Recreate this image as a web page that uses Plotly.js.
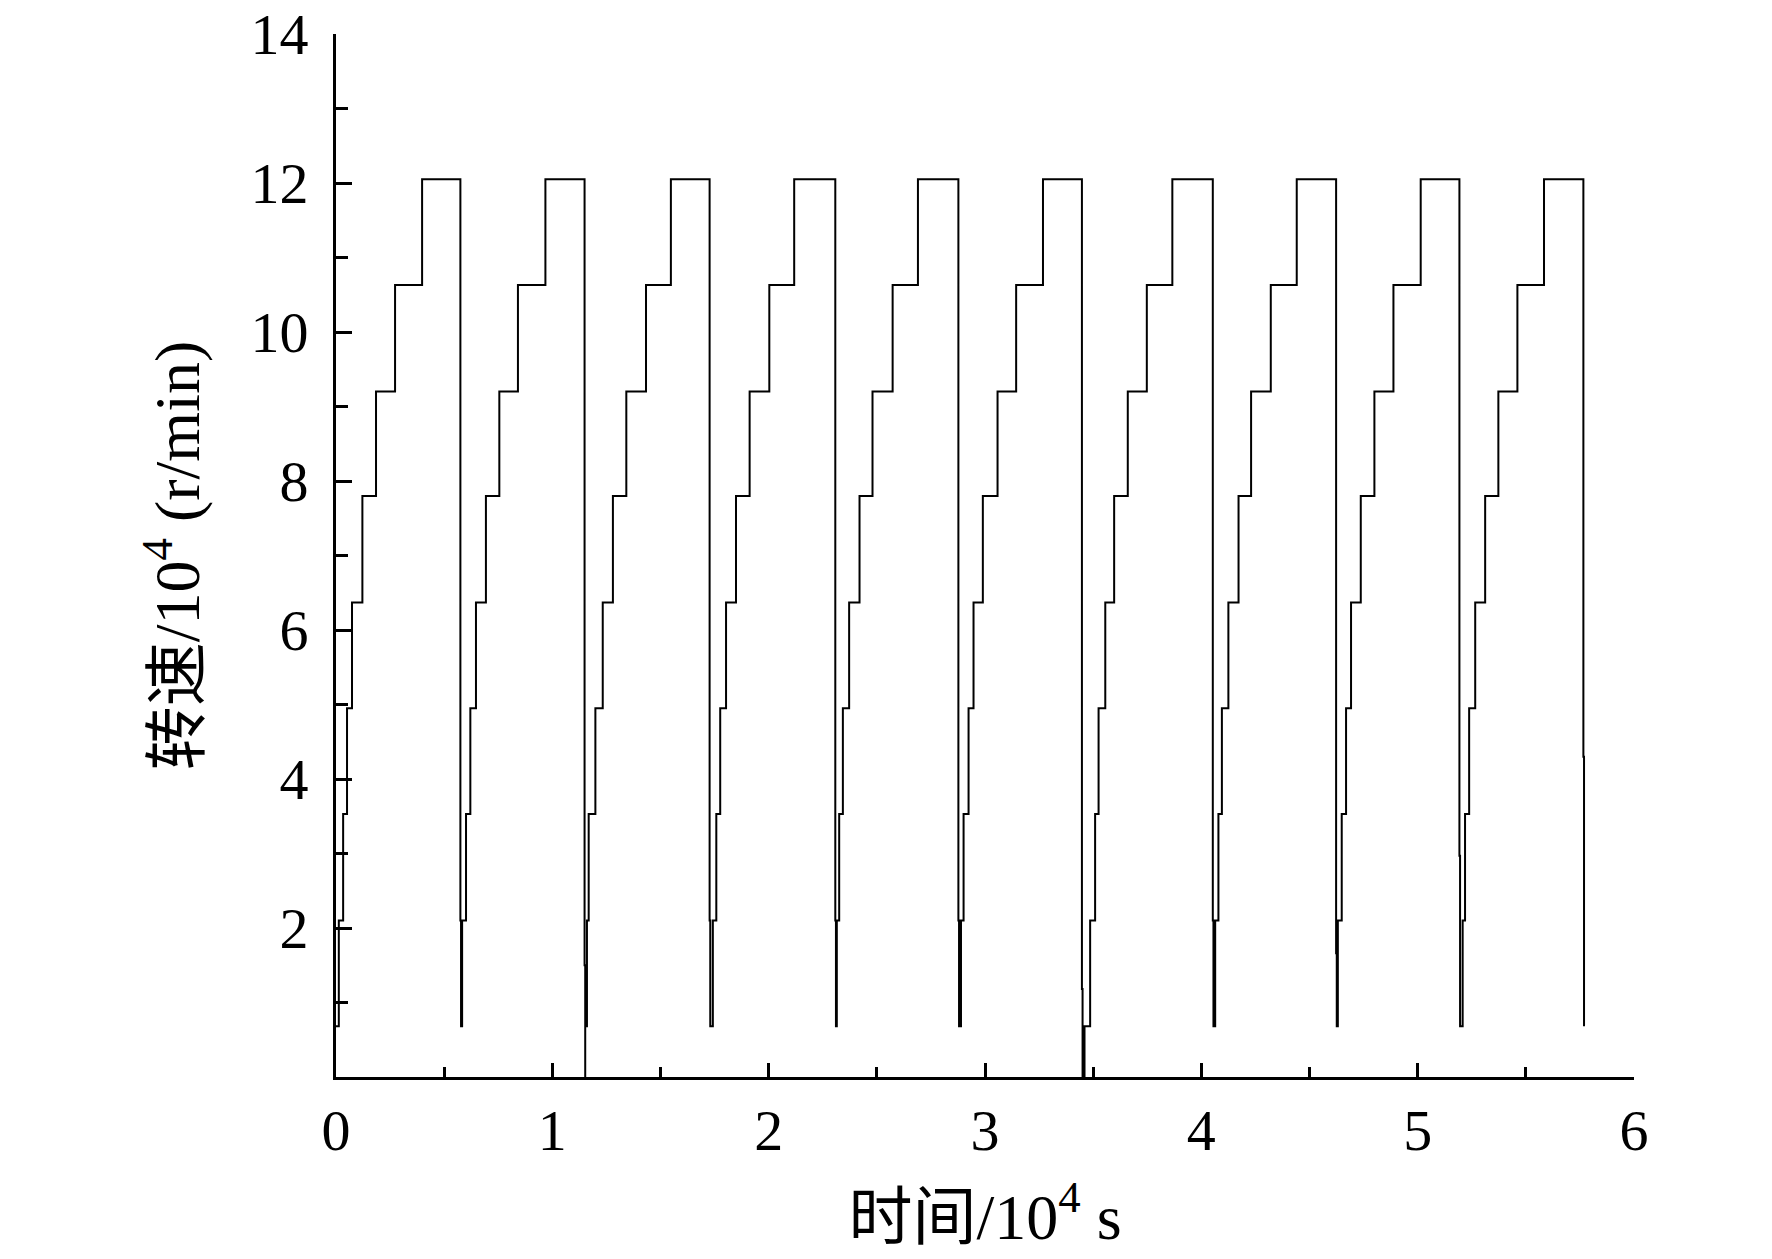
<!DOCTYPE html>
<html>
<head>
<meta charset="utf-8">
<script src="https://cdn.plot.ly/plotly-3.0.1.min.js"></script>
<style>
  html, body { margin: 0; padding: 0; background: #fff; }
  #chart { width: 1772px; height: 1259px; }
</style>
</head>
<body>
<div id="chart"></div>
<script>
// Speed levels (10^4 r/min) of the staircase, from the floor up to the top plateau
const levels = [0.68, 2.10, 3.53, 4.95, 6.37, 7.80, 9.20, 10.63, 12.05];

// For every cycle: times (10^4 s) at which each higher level is reached
const riseTimes = [
  [0.013, 0.033, 0.051, 0.074, 0.122, 0.185, 0.273, 0.398],
  [0.583, 0.601, 0.621, 0.647, 0.693, 0.755, 0.841, 0.968],
  [1.160, 1.168, 1.199, 1.233, 1.280, 1.342, 1.433, 1.548],
  [1.742, 1.758, 1.776, 1.803, 1.849, 1.912, 2.003, 2.118],
  [2.315, 2.326, 2.343, 2.372, 2.420, 2.480, 2.573, 2.690],
  [2.889, 2.901, 2.924, 2.947, 2.990, 3.058, 3.144, 3.268],
  [3.486, 3.509, 3.525, 3.556, 3.597, 3.660, 3.748, 3.866],
  [4.064, 4.079, 4.095, 4.125, 4.172, 4.230, 4.321, 4.441],
  [4.631, 4.649, 4.669, 4.692, 4.737, 4.800, 4.888, 5.014],
  [5.208, 5.219, 5.238, 5.266, 5.312, 5.373, 5.461, 5.584]
];
// Time of the drop that ends each cycle
const dropTimes  = [0.575, 1.149, 1.727, 2.308, 2.877, 3.448, 4.053, 4.623, 5.193, 5.766];
// Speed at which each drop pauses briefly before reaching its floor
const dropPause  = [2.10, 1.50, 2.10, 2.10, 2.10, 1.18, 2.10, 1.66, 2.97, 4.30];
// Lowest speed reached in each drop
const dropFloors = [0.68, 0.00, 0.68, 0.68, 0.68, 0.00, 0.68, 0.68, 0.68, 0.68];
// Time the line climbs back to the floor level after a drop to zero
const recoverTimes = [null, 1.152, null, null, null, 3.460, null, null, null, null];

const xTickVals = [0, 1, 2, 3, 4, 5, 6];
const xTickText = ['0', '1', '2', '3', '4', '5', '6'];
const xMinorVals = [0.5, 1.5, 2.5, 3.5, 4.5, 5.5];
const yTickVals = [2, 4, 6, 8, 10, 12, 14];
const yTickText = ['2', '4', '6', '8', '10', '12', '14'];
const yMinorVals = [1, 3, 5, 7, 9, 11, 13];

// Build the step path (line shape 'hv': horizontal, then vertical)
const xs = [0], ys = [levels[0]];
for (let c = 0; c < riseTimes.length; c++) {
  for (let k = 0; k < riseTimes[c].length; k++) {
    xs.push(riseTimes[c][k]); ys.push(levels[k + 1]);
  }
  xs.push(dropTimes[c]); ys.push(dropPause[c]);
  xs.push(dropTimes[c] + 0.003); ys.push(dropFloors[c]);
  if (recoverTimes[c] !== null) { xs.push(recoverTimes[c]); ys.push(levels[0]); }
}

const font = "'Liberation Serif', 'Times New Roman', 'Noto Sans CJK SC', serif";

const trace = {
  x: xs, y: ys, type: 'scatter', mode: 'lines',
  line: { shape: 'hv', color: '#000', width: 2 },
  hoverinfo: 'skip'
};

const layout = {
  width: 1772, height: 1259,
  paper_bgcolor: '#fff', plot_bgcolor: '#fff',
  margin: { l: 336, r: 138, t: 34, b: 182 },
  showlegend: false,
  font: { family: font, color: '#000', size: 58 },
  xaxis: {
    range: [0, 6], showgrid: false, zeroline: false,
    showline: true, linecolor: '#000', linewidth: 3, mirror: false,
    tickmode: 'array', tickvals: xTickVals, ticktext: xTickText,
    ticks: 'inside', ticklen: 14, tickwidth: 3, tickcolor: '#000',
    minor: { tickmode: 'array', tickvals: xMinorVals, ticks: 'inside', ticklen: 10, tickwidth: 3, tickcolor: '#000' },
    tickfont: { family: font, size: 58, color: '#000' },
    ticklabelstandoff: 0,
    title: { text: '时间/10<sup>4</sup> s', font: { family: font, size: 64, color: '#000' }, standoff: 33 },
    automargin: false
  },
  yaxis: {
    range: [0, 14], showgrid: false, zeroline: false,
    showline: true, linecolor: '#000', linewidth: 3, mirror: false,
    tickmode: 'array', tickvals: yTickVals, ticktext: yTickText,
    ticks: 'inside', ticklen: 16, tickwidth: 3, tickcolor: '#000',
    minor: { tickmode: 'array', tickvals: yMinorVals, ticks: 'inside', ticklen: 12, tickwidth: 3, tickcolor: '#000' },
    tickfont: { family: font, size: 58, color: '#000' },
    ticklabelstandoff: 13,
    title: { text: '转速/10<sup>4</sup> (r/min)', font: { family: font, size: 64, color: '#000' }, standoff: 31 },
    automargin: false
  }
};

Plotly.newPlot('chart', [trace], layout, { staticPlot: true, displayModeBar: false });
</script>
</body>
</html>
